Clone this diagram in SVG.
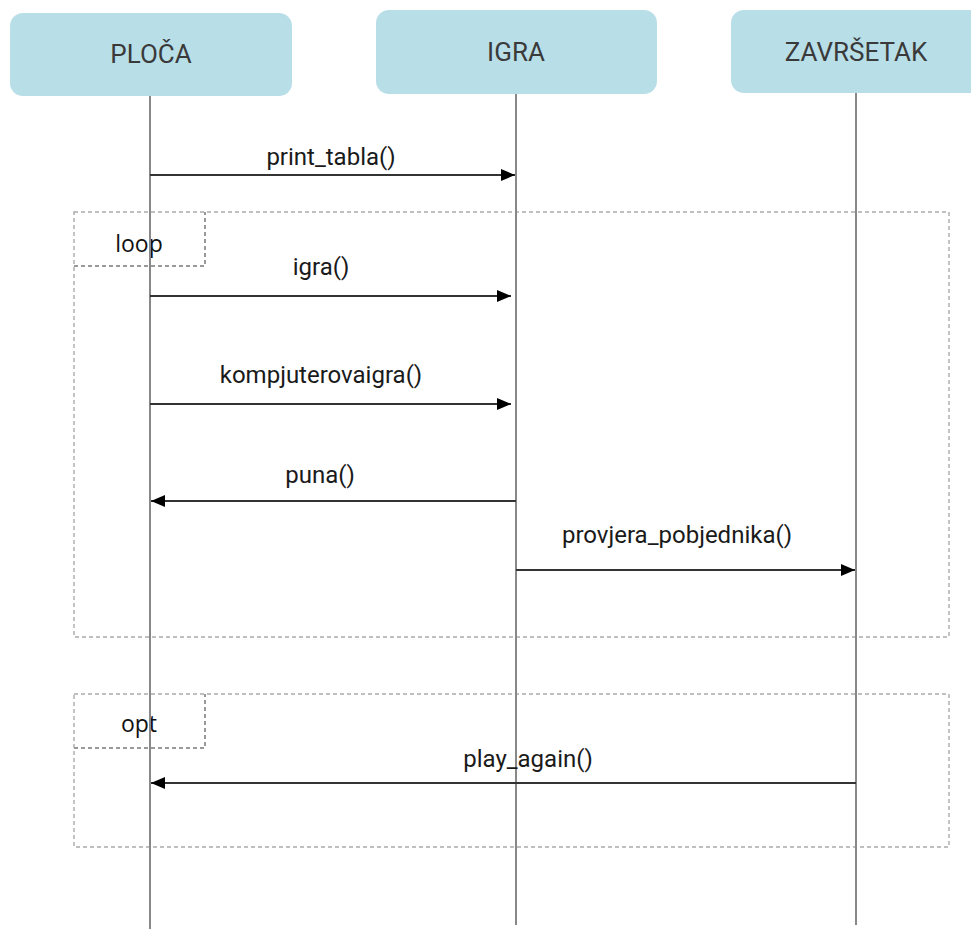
<svg xmlns="http://www.w3.org/2000/svg" width="971" height="929" viewBox="0 0 971 929">
<defs>
<style>
.box{fill:#b8dee8;stroke:none}
.name{font-family:Roboto,"Liberation Sans",sans-serif;font-size:26px;fill:#3a3a3a;text-anchor:middle}
.life{stroke:#888;stroke-width:2;fill:none}
.msg{stroke:#333;stroke-width:2;fill:none}
.lbl{font-family:Roboto,"Liberation Sans",sans-serif;font-size:24px;fill:#1a1a1a;text-anchor:middle}
.frame{fill:none;stroke:#aaa;stroke-width:1.4;stroke-dasharray:4 3}
.flbl{font-family:"Open Sans","Noto Sans",sans-serif;font-size:23px;fill:#111;text-anchor:middle}
</style>
<marker id="arr" viewBox="0 0 14 12" refX="14" refY="6" markerWidth="14" markerHeight="12" markerUnits="userSpaceOnUse" orient="auto">
<path d="M0,0 L14,6 L0,12 Z" fill="#000"/>
</marker>
</defs>
<rect width="971" height="929" fill="#fff"/>
<g id="frames">
<rect class="frame" x="74" y="212" width="875" height="425"/>
<path class="frame" d="M74,266 H205 V212" style="stroke:#999;stroke-width:2"/>
<text class="flbl" x="139" y="252">loop</text>
<rect class="frame" x="74" y="694" width="875" height="153"/>
<path class="frame" d="M74,748 H205 V694" style="stroke:#999;stroke-width:2"/>
<text class="flbl" x="139" y="732">opt</text>
</g>
<g id="lifelines">
<line class="life" x1="150" y1="96" x2="150" y2="929"/>
<line class="life" x1="516" y1="94" x2="516" y2="925"/>
<line class="life" x1="856" y1="93" x2="856" y2="925"/>
</g>
<g id="ploca"><rect class="box" x="10" y="13" width="282" height="83" rx="13"/><text class="name" x="151" y="63">PLOČA</text></g>
<g id="igra"><rect class="box" x="376" y="10" width="281" height="84" rx="13"/><text class="name" x="516" y="61">IGRA</text></g>
<g id="zavrsetak"><rect class="box" x="731" y="10" width="255" height="83" rx="13"/><text class="name" x="856" y="61">ZAVRŠETAK</text></g>
<g id="connectors">
<line class="msg" x1="150" y1="175" x2="515" y2="175" marker-end="url(#arr)"/>
<text class="lbl" x="331" y="165">print_tabla()</text>
<line class="msg" x1="150" y1="296" x2="511" y2="296" marker-end="url(#arr)"/>
<text class="lbl" x="321" y="275">igra()</text>
<line class="msg" x1="150" y1="404" x2="511" y2="404" marker-end="url(#arr)"/>
<text class="lbl" x="321" y="383">kompjuterovaigra()</text>
<line class="msg" x1="516" y1="501" x2="151" y2="501" marker-end="url(#arr)"/>
<text class="lbl" x="320" y="483">puna()</text>
<line class="msg" x1="516" y1="570" x2="855" y2="570" marker-end="url(#arr)"/>
<text class="lbl" x="677" y="543">provjera_pobjednika()</text>
<line class="msg" x1="856" y1="783" x2="151" y2="783" marker-end="url(#arr)"/>
<text class="lbl" x="528" y="767">play_again()</text>
</g>
</svg>
